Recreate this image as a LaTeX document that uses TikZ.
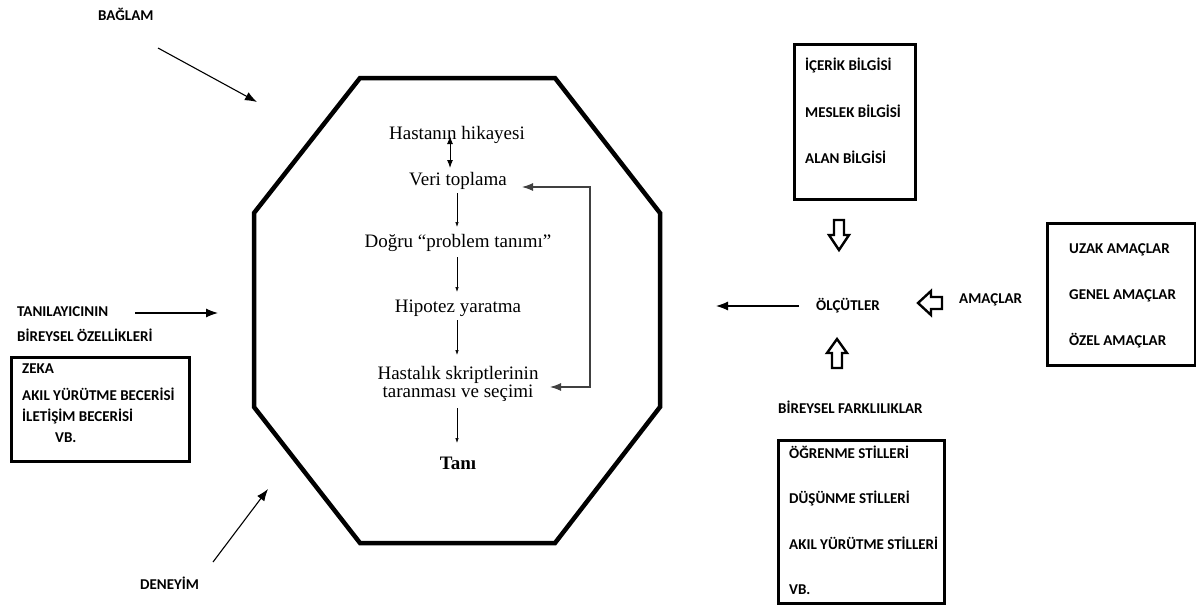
\documentclass[tikz,border=0pt]{standalone}
\usepackage{fontspec}
\setmainfont{Carlito}
\newfontfamily\stepfont{Liberation Serif}
\usetikzlibrary{arrows.meta}
\begin{document}
\begin{tikzpicture}[x=1pt,y=-1pt,
  lbl/.style={font=\bfseries\fontsize{15}{18}\selectfont, inner sep=0pt, anchor=west},
  stepnode/.style={font=\stepfont\fontsize{19}{22}\selectfont, inner sep=1pt, align=center},
  bigarrow/.style={-{Latex[length=12pt,width=9pt]}, line width=1.1pt},
  smallarrow/.style={-{Latex[length=5pt,width=3.5pt]}, line width=0.7pt},
  loop/.style={{Latex[length=11pt,width=8pt]}-{Latex[length=11pt,width=8pt]}, line width=1.1pt, draw=black!75},
  framebox/.style={draw, line width=3pt},
  hollow/.style={draw, line width=2.4pt, fill=white, line join=miter}]
\useasboundingbox (0,0) rectangle (1196,610);

% central octagon
\draw[line width=4.5pt, line join=miter]
  (360,78) -- (555,78) -- (660,213) -- (660,407) -- (555,543)
  -- (360,543) -- (254,407) -- (254,213) -- cycle;

% diagnostic steps
\node[stepnode] (s1) at (457,135) {Hastanın hikayesi};
\node[stepnode] (s2) at (458,181) {Veri toplama};
\node[stepnode] (s3) at (458,243) {Doğru “problem tanımı”};
\node[stepnode] (s4) at (458,308) {Hipotez yaratma};
\node[stepnode] (s5) at (458,384) {Hastalık skriptlerinin\\[-4pt]taranması ve seçimi};
\node[stepnode, font=\stepfont\bfseries\fontsize{19}{22}\selectfont] (s6) at (458,463) {Tanı};

\draw[{Latex[length=8pt,width=6pt]}-{Latex[length=8pt,width=6pt]}, line width=1pt]
  (450,136) -- (450,168);
\draw[smallarrow] (457,193) -- (457,227);
\draw[smallarrow] (457,257) -- (457,292);
\draw[smallarrow] (457,320) -- (457,355);
\draw[smallarrow] (457,408) -- (457,443);
\coordinate (lt) at (590,187);
\coordinate (lb) at (590,387);
\draw[loop] (522,187) -- (lt) -- (lb) -- (550,387);

% surrounding influences
\node[lbl] (bag) at (98,14) {BAĞLAM};
\coordinate (bagA) at (158,48);
\coordinate (bagB) at (257,102);
\draw[bigarrow] (bagA) -- (bagB);

\node[lbl] (den) at (140,583) {DENEYİM};
\coordinate (denA) at (213,562);
\coordinate (denB) at (268,489);
\draw[bigarrow] (denA) -- (denB);

\node[lbl] (tan1) at (17,312) {TANILAYICININ};
\node[lbl] (tan2) at (17,335) {BİREYSEL ÖZELLİKLERİ};
\coordinate (tanA) at (135,313);
\coordinate (tanB) at (218,313);
\draw[bigarrow] (tanA) -- (tanB);

\node[framebox, minimum width=178pt, minimum height=104pt, anchor=north west] (zbox) at (10,356) {};
\node[lbl] (z1) at (22,369) {ZEKA};
\node[lbl] (z2) at (22,394) {AKIL YÜRÜTME BECERİSİ};
\node[lbl] (z3) at (22,416) {İLETİŞİM BECERİSİ};
\node[lbl] (z4) at (55,438) {VB.};

% criteria block
\node[framebox, minimum width=121pt, minimum height=155pt, anchor=north west] (kbox) at (793,43) {};
\node[lbl] (k1) at (805,65) {İÇERİK BİLGİSİ};
\node[lbl] (k2) at (805,111) {MESLEK BİLGİSİ};
\node[lbl] (k3) at (805,157) {ALAN BİLGİSİ};

\node[lbl, anchor=center] (olc) at (848,306) {ÖLÇÜTLER};
\coordinate (olcL) at (716,306);
\draw[bigarrow] (olc.west -| 799,0) -- (olcL);

% hollow block arrows
\draw[hollow] (834,220) -- (844,220) -- (844,235) -- (849,235) -- (839,250)
  -- (829,235) -- (834,235) -- cycle;
\draw[hollow] (832,368) -- (842,368) -- (842,353) -- (847,353) -- (837,339)
  -- (827,353) -- (832,353) -- cycle;
\draw[hollow] (942,297) -- (942,309) -- (931,309) -- (931,315) -- (918,303)
  -- (931,291) -- (931,297) -- cycle;

\node[lbl] (ama) at (959,300) {AMAÇLAR};

\node[framebox, minimum width=148pt, minimum height=142pt, anchor=north west] (abox) at (1046,222) {};
\node[lbl] (a1) at (1069,250) {UZAK AMAÇLAR};
\node[lbl] (a2) at (1069,296) {GENEL AMAÇLAR};
\node[lbl] (a3) at (1069,341) {ÖZEL AMAÇLAR};

\node[lbl] (bf) at (778,407) {BİREYSEL FARKLILIKLAR};
\node[framebox, minimum width=166pt, minimum height=163pt, anchor=north west] (bbox) at (777,439) {};
\node[lbl] (b1) at (789,452) {ÖĞRENME STİLLERİ};
\node[lbl] (b2) at (789,498) {DÜŞÜNME STİLLERİ};
\node[lbl] (b3) at (789,543) {AKIL YÜRÜTME STİLLERİ};
\node[lbl] (b4) at (789,590) {VB.};
\end{tikzpicture}
\end{document}
